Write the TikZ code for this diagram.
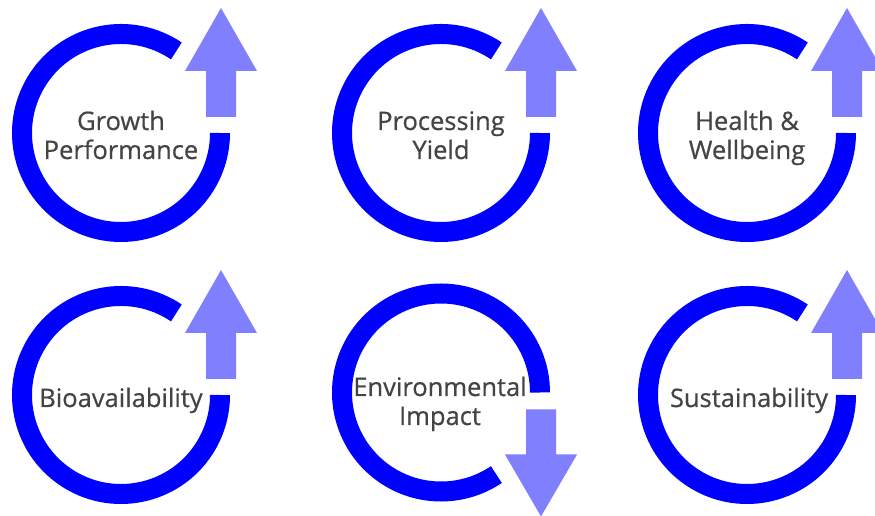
\documentclass[tikz,border=0pt]{standalone}
\usepackage{fontspec}
\setmainfont{Open Sans}[FakeBold=0.6]
\usetikzlibrary{calc}
\definecolor{ringblue}{HTML}{0000FF}
\definecolor{arrowblue}{HTML}{8080FF}
\definecolor{labelgray}{HTML}{444444}
\tikzset{
  ring/.style={draw=ringblue, line width=20pt, line cap=butt},
  bigarrow/.style={fill=arrowblue, draw=none},
  label/.style={text=labelgray, align=center, inner sep=0pt, anchor=base,
    font=\fontsize{25.5}{29}\selectfont}
}
\newcommand\uparr[1]{%
  \fill[bigarrow] ($(#1)+(85,16)$) -- ($(#1)+(115,16)$) -- ($(#1)+(115,62)$) -- ($(#1)+(136,62)$)
    -- ($(#1)+(100,125)$) -- ($(#1)+(64,62)$) -- ($(#1)+(85,62)$) -- cycle;}
\newcommand\downarr[1]{%
  \fill[bigarrow] ($(#1)+(85,-17)$) -- ($(#1)+(115,-17)$) -- ($(#1)+(115,-62)$) -- ($(#1)+(136,-62)$)
    -- ($(#1)+(100,-124)$) -- ($(#1)+(64,-62)$) -- ($(#1)+(85,-62)$) -- cycle;}
\begin{document}
\begin{tikzpicture}[x=1pt,y=1pt]
\clip (0,0) rectangle (875,516);
\fill[white] (0,0) rectangle (875,516);
% centres
\coordinate (c1) at (121,383);
\coordinate (c2) at (441,383);
\coordinate (c3) at (747,383);
\coordinate (c4) at (121,121);
\coordinate (c5) at (441,123.5);
\coordinate (c6) at (747,121);
% rings
\foreach \c in {c1,c2,c3,c4,c6}{
  \draw[ring] ($(\c)+(56:99pt)$) arc[start angle=56, end angle=360, radius=99pt];
  \uparr{\c}
}
\draw[ring] ($(c5)+(0:99pt)$) arc[start angle=0, end angle=304, radius=99pt];
\downarr{c5}
% labels
\node[label] (t1) at ($(c1)+(0,-26)$) {Growth\\Performance};
\node[label] (t2) at ($(c2)+(0,-26)$) {Processing\\Yield};
\node[label] (t3) at ($(c3)+(0,-26)$) {Health \&\\Wellbeing};
\node[label] (t4) at ($(c4)+(0,-12)$) {Bioavailability};
\node[label] (t5) at ($(c5)+(-1,-32.5)$) {Environmental\\Impact};
\node[label] (t6) at ($(c6)+(2,-12)$) {Sustainability};
\end{tikzpicture}
\end{document}
